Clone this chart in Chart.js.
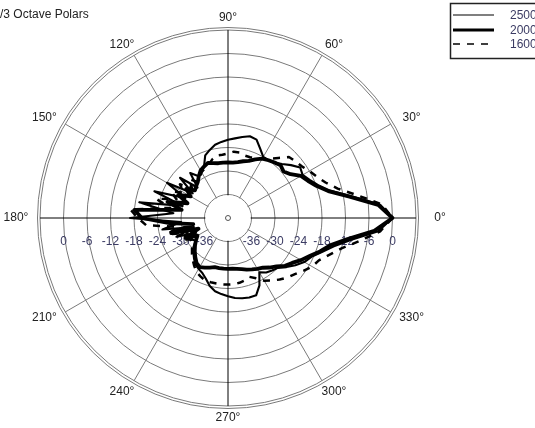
<!DOCTYPE html>
<html>
<head>
<meta charset="utf-8">
<script src="https://cdn.jsdelivr.net/npm/chart.js@4.4.0/dist/chart.umd.min.js"></script>
<style>
  html, body { margin: 0; padding: 0; background: #fff; overflow: hidden; }
  canvas { display: block; }
</style>
</head>
<body>
<canvas id="polar" width="535" height="428"></canvas>
<script>
// angle in degrees, counter-clockwise from the right
const angles = [0, 5, 10, 15, 20, 25, 30, 35, 40, 45, 50, 55, 60, 65, 70, 75, 80, 85,
  90, 95, 100, 105, 110, 115, 120, 125, 130, 135, 140, 145, 150, 155, 160, 165, 170, 175,
  180, 185, 190, 195, 200, 205, 210, 215, 220, 225, 230, 235, 240, 245, 250, 255, 260, 265,
  270, 275, 280, 285, 290, 295, 300, 305, 310, 315, 320, 325, 330, 335, 340, 345, 350, 355];

// level in dB for each angle
const s2500 = [0, -3, -10, -15, -17.5, -19, -20, -19.5, -21, -22.5, -23.5, -24, -24, -22.5, -20.7, -20.4, -21, -21.6,
  -22, -22.5, -23, -24, -25, -27.5, -28.5, -29, -27, -31, -26, -31, -24, -30, -22, -30, -19, -28,
  -17, -30, -25, -33, -28, -33, -31, -32, -30.5, -29.5, -28.5, -27.5, -27, -26.5, -25.5, -24, -23, -22.5,
  -22, -21.5, -21.2, -21, -21, -23, -26, -25, -24.5, -24, -22.5, -21, -19.5, -18.5, -16.5, -14, -10, -3.5];

const s2000 = [0, -3.5, -10.5, -15.5, -18, -19.5, -20.5, -22.5, -23.5, -23, -23.5, -24, -24.5, -25.5, -26.5, -27, -27.5, -27.8,
  -27.8, -27.8, -27.8, -27.5, -27, -27.5, -28, -29, -30, -30.5, -31, -29, -31, -28, -31, -26, -30, -18,
  -20, -27, -33, -27, -34, -30, -33, -32, -31, -30, -29, -28, -27.5, -28, -28.5, -29, -29, -29,
  -29, -29, -28.8, -28.5, -28, -27.5, -27, -26.5, -25.5, -24.5, -23, -22, -20.5, -19, -17, -15, -11, -4.5];

const s1600 = [0, -2.5, -8.5, -13, -15.5, -17, -18, -19, -19.5, -20, -22, -23.5, -24.5, -25, -25.5, -25.5, -25, -25,
  -25.5, -25.8, -25.8, -26.5, -27.5, -28, -28.5, -29.5, -30, -28, -30, -27, -29, -26, -28, -23, -27, -17,
  -19, -21, -29, -26, -31, -29, -31, -31, -30, -29, -28, -27, -26, -25.5, -25, -25, -25, -25,
  -25, -25, -25.2, -25.5, -26, -25, -23.5, -22.5, -21.5, -20.5, -19.7, -18.5, -17.2, -16.4, -14.5, -12, -8, -3];

const seriesNames = ['2500 Hz', '2000 Hz', '1600 Hz'];
const dbTicks = [-36, -30, -24, -18, -12, -6, 0];
const spokeAngles = [0, 30, 60, 90, 120, 150, 180, 210, 240, 270, 300, 330];
const chartTitle = '1/3 Octave Polars';

// radar goes clockwise from the start angle, the plot goes counter-clockwise
function clockwise(arr) {
  return arr.map((v, i) => arr[(arr.length - i) % arr.length]);
}
const labelsCW = clockwise(angles);

const FONT = '12px "Liberation Sans", Arial, sans-serif';
const TEXT_BLUE = '#3b3b63';
const GRID = '#7a7a7a';

const decorations = {
  id: 'decorations',
  beforeDatasetsDraw(chart) {
    const r = chart.scales.r;
    const c = chart.ctx;
    const cx = r.xCenter, cy = r.yCenter;
    c.save();
    // empty middle of the plot
    const inner = r.getDistanceFromCenterForValue(-36);
    c.fillStyle = '#fff';
    c.beginPath();
    c.arc(cx, cy, inner - 0.8, 0, Math.PI * 2);
    c.fill();
    c.strokeStyle = '#555';
    c.lineWidth = 1;
    c.beginPath();
    c.arc(cx, cy, 2.5, 0, Math.PI * 2);
    c.stroke();
    // second line of the outer rim
    c.strokeStyle = GRID;
    c.beginPath();
    c.arc(cx, cy, r.drawingArea + 2.5, 0, Math.PI * 2);
    c.stroke();
    // dB labels under the horizontal axis
    c.font = FONT;
    c.textAlign = 'center';
    c.textBaseline = 'middle';
    c.fillStyle = TEXT_BLUE;
    dbTicks.forEach(v => {
      const d = r.getDistanceFromCenterForValue(v);
      c.fillText(String(v), cx - d, cy + 24);
      c.fillText(String(v), cx + d, cy + 24);
    });
    // angle labels
    c.fillStyle = '#222';
    spokeAngles.forEach(a => {
      const t = a * Math.PI / 180;
      c.fillText(a + '°', cx + 212 * Math.cos(t), cy - 200 * Math.sin(t));
    });
    c.restore();
  },
  afterDraw(chart) {
    const c = chart.ctx;
    c.save();
    c.font = FONT;
    c.textBaseline = 'alphabetic';
    c.textAlign = 'left';
    c.fillStyle = '#222';
    c.fillText(chartTitle, -c.measureText('1').width, 18);

    // legend box, runs off the right edge
    c.strokeStyle = '#222';
    c.lineWidth = 1.5;
    c.strokeRect(450.5, 3.5, 110, 55);
    const rows = [15, 30, 44];
    chart.data.datasets.forEach((ds, i) => {
      c.strokeStyle = '#000';
      c.lineWidth = ds.legendWidth;
      c.setLineDash(ds.borderDash || []);
      c.beginPath();
      c.moveTo(453, rows[i]);
      c.lineTo(494, rows[i]);
      c.stroke();
      c.setLineDash([]);
      c.fillStyle = TEXT_BLUE;
      c.textBaseline = 'middle';
      c.fillText(ds.label, 510, rows[i] + 1);
    });
    c.restore();
  }
};

new Chart(document.getElementById('polar'), {
  type: 'radar',
  data: {
    labels: labelsCW,
    datasets: [
      { label: seriesNames[0], data: clockwise(s2500), borderColor: '#000', borderWidth: 2.1, legendWidth: 1.2 },
      { label: seriesNames[1], data: clockwise(s2000), borderColor: '#000', borderWidth: 3.8, legendWidth: 3 },
      { label: seriesNames[2], data: clockwise(s1600), borderColor: '#000', borderWidth: 2.5, legendWidth: 1.5, borderDash: [7, 7] }
    ]
  },
  options: {
    responsive: false,
    animation: false,
    devicePixelRatio: 1,
    layout: { padding: { left: 40, top: 30, right: 119, bottom: 22 } },
    elements: {
      line: { fill: false, tension: 0, borderJoinStyle: 'round' },
      point: { radius: 0, hoverRadius: 0 }
    },
    plugins: {
      legend: { display: false },
      title: { display: false },
      tooltip: { enabled: false }
    },
    scales: {
      r: {
        min: -42,
        max: 6,
        startAngle: 90,
        ticks: { stepSize: 6, display: false },
        pointLabels: { display: false },
        grid: { circular: true, color: GRID, lineWidth: 1 },
        angleLines: {
          lineWidth: ctx => (labelsCW[ctx.index] % 30 === 0 ? 1 : 0),
          color: ctx => (labelsCW[ctx.index] % 90 === 0 ? '#000' : GRID)
        }
      }
    }
  },
  plugins: [decorations]
});
</script>
</body>
</html>
